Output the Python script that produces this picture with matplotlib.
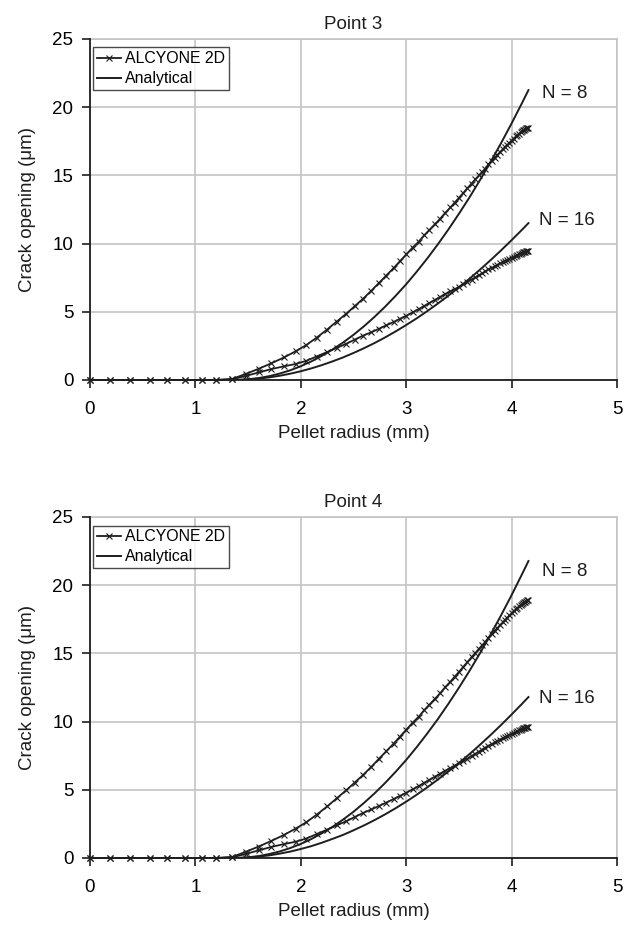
import matplotlib
matplotlib.use("Agg")
import matplotlib.pyplot as plt

plt.rcParams['font.family'] = ['Liberation Sans', 'DejaVu Sans']

# ---------------- data ----------------
titles = ["Point 3", "Point 4"]
x_label = "Pellet radius (mm)"
y_label = "Crack opening (\u03bcm)"
legend_labels = ["ALCYONE 2D", "Analytical"]
curve_labels = ["N = 8", "N = 16"]
x_ticks = [0, 1, 2, 3, 4, 5]
y_ticks = [0, 5, 10, 15, 20, 25]

# ALCYONE 2D mesh node radii (mm)
r_alcyone = [0, 0.19, 0.38, 0.57, 0.73, 0.90, 1.06, 1.20, 1.35, 1.48, 1.60, 1.72,
             1.84, 1.95, 2.05, 2.15, 2.25, 2.34, 2.43, 2.51, 2.59, 2.67, 2.74, 2.81,
             2.88, 2.94, 3.00, 3.06, 3.12, 3.17, 3.22, 3.27, 3.32, 3.37, 3.42, 3.46,
             3.50, 3.54, 3.58, 3.62, 3.655, 3.69, 3.72, 3.75, 3.78, 3.81, 3.84, 3.865,
             3.89, 3.915, 3.94, 3.96, 3.98, 4.00, 4.02, 4.04, 4.055, 4.07, 4.085, 4.10,
             4.11, 4.12, 4.13, 4.14, 4.15, 4.16]

p3_alcyone_n8 = [0, 0, 0, 0, 0, 0, 0, 0, 0.08, 0.45, 0.82, 1.22, 1.65, 2.1, 2.55, 3.1,
                 3.7, 4.28, 4.85, 5.4, 5.95, 6.55, 7.1, 7.65, 8.2, 8.7, 9.2, 9.7, 10.15,
                 10.6, 11.0, 11.4, 11.8, 12.25, 12.65, 13.0, 13.35, 13.7, 14.05, 14.4,
                 14.7, 15.0, 15.25, 15.5, 15.8, 16.05, 16.3, 16.5, 16.7, 16.9, 17.1,
                 17.25, 17.4, 17.55, 17.7, 17.85, 17.95, 18.05, 18.15, 18.25, 18.3,
                 18.35, 18.4, 18.45, 18.5, 18.5]
p3_alcyone_n16 = [0, 0, 0, 0, 0, 0, 0, 0, 0.05, 0.3, 0.55, 0.8, 1.0, 1.17, 1.4, 1.72,
                  2.05, 2.35, 2.65, 2.95, 3.25, 3.5, 3.75, 4.0, 4.25, 4.48, 4.7, 4.95,
                  5.2, 5.42, 5.64, 5.86, 6.08, 6.3, 6.5, 6.66, 6.82, 7.0, 7.18, 7.36,
                  7.52, 7.68, 7.82, 7.96, 8.1, 8.22, 8.34, 8.44, 8.54, 8.64, 8.74, 8.82,
                  8.9, 8.97, 9.04, 9.11, 9.17, 9.22, 9.27, 9.32, 9.35, 9.38, 9.41, 9.43,
                  9.45, 9.46]
p4_alcyone_n8 = [0, 0, 0, 0, 0, 0, 0, 0, 0.08, 0.46, 0.84, 1.25, 1.69, 2.15, 2.61, 3.17,
                 3.78, 4.37, 4.96, 5.52, 6.08, 6.69, 7.26, 7.82, 8.38, 8.89, 9.40, 9.91,
                 10.37, 10.83, 11.24, 11.65, 12.06, 12.52, 12.93, 13.29, 13.64, 14.0,
                 14.36, 14.72, 15.02, 15.33, 15.59, 15.84, 16.15, 16.4, 16.66, 16.86,
                 17.07, 17.27, 17.48, 17.63, 17.78, 17.94, 18.09, 18.24, 18.34, 18.45,
                 18.55, 18.65, 18.7, 18.75, 18.8, 18.86, 18.91, 18.91]
p4_alcyone_n16 = [0, 0, 0, 0, 0, 0, 0, 0, 0.05, 0.3, 0.56, 0.81, 1.02, 1.19, 1.42, 1.75,
                  2.08, 2.39, 2.69, 3.0, 3.3, 3.56, 3.81, 4.06, 4.32, 4.55, 4.78, 5.03,
                  5.28, 5.51, 5.73, 5.95, 6.18, 6.4, 6.6, 6.77, 6.93, 7.11, 7.29, 7.48,
                  7.64, 7.8, 7.95, 8.09, 8.23, 8.35, 8.47, 8.58, 8.68, 8.78, 8.88, 8.96,
                  9.04, 9.11, 9.18, 9.26, 9.32, 9.37, 9.42, 9.47, 9.5, 9.53, 9.56, 9.58,
                  9.6, 9.61]

# Analytical solution radii (mm)
r_analytical = [0, 1.3, 1.4, 1.5, 1.6, 1.7, 1.8, 1.9, 2.0, 2.1, 2.2, 2.3, 2.4, 2.5, 2.6,
                2.7, 2.8, 2.9, 3.0, 3.1, 3.2, 3.3, 3.4, 3.5, 3.6, 3.7, 3.8, 3.9, 4.0,
                4.1, 4.16]
p3_analytical_n8 = [0, 0, 0.0, 0.05, 0.14, 0.28, 0.47, 0.71, 1.01, 1.36, 1.77, 2.23,
                    2.74, 3.31, 3.94, 4.63, 5.37, 6.17, 7.02, 7.94, 8.91, 9.94, 11.03,
                    12.18, 13.38, 14.65, 15.98, 17.36, 18.81, 20.32, 21.25]
p3_analytical_n16 = [0, 0, 0.0, 0.04, 0.10, 0.19, 0.31, 0.46, 0.64, 0.85, 1.09, 1.36,
                     1.65, 1.98, 2.33, 2.71, 3.12, 3.56, 4.03, 4.52, 5.05, 5.60, 6.18,
                     6.79, 7.42, 8.09, 8.78, 9.50, 10.25, 11.02, 11.50]
p4_analytical_n8 = [0, 0, 0.0, 0.05, 0.14, 0.29, 0.48, 0.73, 1.03, 1.39, 1.81, 2.28,
                    2.81, 3.39, 4.04, 4.74, 5.50, 6.32, 7.19, 8.13, 9.13, 10.18, 11.30,
                    12.48, 13.71, 15.01, 16.37, 17.79, 19.27, 20.82, 21.77]
p4_analytical_n16 = [0, 0, 0.0, 0.04, 0.10, 0.19, 0.32, 0.47, 0.66, 0.87, 1.12, 1.40,
                     1.69, 2.03, 2.39, 2.78, 3.20, 3.65, 4.13, 4.64, 5.18, 5.75, 6.34,
                     6.97, 7.61, 8.30, 9.01, 9.75, 10.52, 11.31, 11.80]

# annotation anchor positions (data coords)
label_x = [4.285, 4.26]
p3_label_y = [21.0, 11.7]
p4_label_y = [21.0, 11.7]

panels = [
    (p3_alcyone_n8, p3_alcyone_n16, p3_analytical_n8, p3_analytical_n16, p3_label_y),
    (p4_alcyone_n8, p4_alcyone_n16, p4_analytical_n8, p4_analytical_n16, p4_label_y),
]

# ---------------- figure ----------------
fig = plt.figure(figsize=(6.31, 9.32), dpi=100)
axes_rects = [
    [0.1426, 0.5923, 0.8352, 0.3659],
    [0.1426, 0.0794, 0.8352, 0.3659],
]
line_c = "#1e1e1e"
grid_c = "#c4c4c4"
fs = 13.5

for rect, title, (a8, a16, an8, an16, ly) in zip(axes_rects, titles, panels):
    ax = fig.add_axes(rect)
    ax.set_xlim(0, 5)
    ax.set_ylim(0, 25)
    ax.set_xticks(x_ticks)
    ax.set_yticks(y_ticks)
    ax.grid(True, color=grid_c, linewidth=1.2)
    ax.set_axisbelow(True)
    for side in ("top", "right"):
        ax.spines[side].set_visible(False)
    for side in ("left", "bottom"):
        ax.spines[side].set_color(line_c)
        ax.spines[side].set_linewidth(1.3)
    ax.axhline(25, color=grid_c, linewidth=1.2, zorder=0.5, clip_on=False)
    ax.axvline(5, color=grid_c, linewidth=1.2, zorder=0.5, clip_on=False)
    ax.tick_params(axis="both", direction="out", length=6, width=1.2,
                   color=line_c, labelsize=fs)
    ax.tick_params(axis="x", pad=9)
    ax.tick_params(axis="y", pad=6)

    h1, = ax.plot(r_alcyone, a8, color=line_c, linewidth=1.3, marker="x",
                  markersize=4.5, markeredgewidth=0.8, label=legend_labels[0],
                  clip_on=False, zorder=3)
    ax.plot(r_alcyone, a16, color=line_c, linewidth=1.3, marker="x",
            markersize=4.5, markeredgewidth=0.8, clip_on=False, zorder=3)
    h2, = ax.plot(r_analytical, an8, color=line_c, linewidth=1.4,
                  label=legend_labels[1], zorder=2.5)
    ax.plot(r_analytical, an16, color=line_c, linewidth=1.4, zorder=2.5)

    for lx, y, txt in zip(label_x, ly, curve_labels):
        ax.text(lx, y, txt, fontsize=fs, ha="left", va="center", color=line_c)

    leg = ax.legend(handles=[h1, h2], loc="upper left",
                    bbox_to_anchor=(0.006, 0.975), fontsize=11.4,
                    frameon=True, fancybox=False, borderpad=0.25,
                    handlelength=1.5, handletextpad=0.25, labelspacing=0.3,
                    borderaxespad=0.0)
    leg.get_frame().set_edgecolor(line_c)
    leg.get_frame().set_linewidth(1.0)

    ax.set_title(title, fontsize=fs, pad=7, color=line_c)
    ax.set_xlabel(x_label, fontsize=fs, labelpad=5, color=line_c)
    ax.set_ylabel(y_label, fontsize=fs, labelpad=12, color=line_c)

fig.savefig("out.png", dpi=100, facecolor="white")
